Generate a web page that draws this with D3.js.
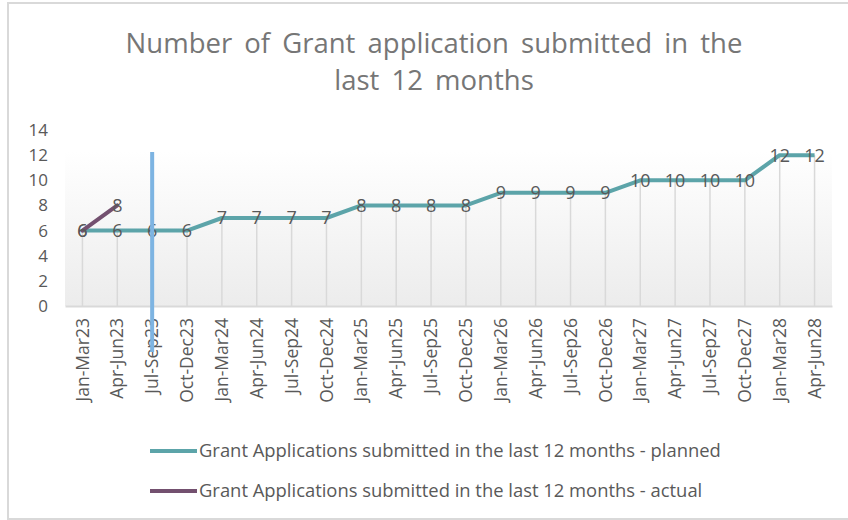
<!DOCTYPE html>
<html>
<head>
<meta charset="utf-8">
<script src="https://cdn.jsdelivr.net/npm/d3@7"></script>
<style>
  body { margin: 0; background: #fff; }
  svg { display: block; font-family: 'Open Sans', sans-serif; }
</style>
</head>
<body>
<svg id="chart" width="848" height="520"></svg>
<script>
// --- data ---
const quarters = ['Jan-Mar23', 'Apr-Jun23', 'Jul-Sep23', 'Oct-Dec23', 'Jan-Mar24', 'Apr-Jun24',
  'Jul-Sep24', 'Oct-Dec24', 'Jan-Mar25', 'Apr-Jun25', 'Jul-Sep25', 'Oct-Dec25', 'Jan-Mar26',
  'Apr-Jun26', 'Jul-Sep26', 'Oct-Dec26', 'Jan-Mar27', 'Apr-Jun27', 'Jul-Sep27', 'Oct-Dec27',
  'Jan-Mar28', 'Apr-Jun28'];
const planned = [6, 6, 6, 6, 7, 7, 7, 7, 8, 8, 8, 8, 9, 9, 9, 9, 10, 10, 10, 10, 12, 12];
const actual = [6, 8];
const yTicks = [0, 2, 4, 6, 8, 10, 12, 14];
const markerQuarter = 'Jul-Sep23';
const titleLines = ['Number of Grant application submitted in the', 'last 12 months'];
const legendLabels = [
  'Grant Applications submitted in the last 12 months - planned',
  'Grant Applications submitted in the last 12 months - actual',
];

const colors = { planned: '#5ca4a9', actual: '#73506f', text: '#595959', grid: '#d9d9d9' };

const svg = d3.select('#chart');

// outer chart frame
svg.append('rect')
  .attr('x', 8).attr('y', 3).attr('width', 850).attr('height', 516)
  .attr('fill', '#fff').attr('stroke', '#d9d9d9').attr('stroke-width', 2);

// title
svg.append('g').selectAll('text')
  .data(titleLines)
  .join('text')
  .attr('x', 434)
  .attr('y', (d, i) => 53 + i * 37)
  .attr('text-anchor', 'middle')
  .attr('fill', '#767676')
  .attr('font-size', 27.5)
  .attr('word-spacing', 5)
  .text(d => d);

// scales
const plot = { left: 65, right: 832, top: 130, bottom: 306 };
const x = d3.scaleBand().domain(quarters).range([plot.left, plot.right]);
const cx = d => x(d) + x.bandwidth() / 2;
const y = d3.scaleLinear().domain([0, 14]).range([plot.bottom, plot.top]);

// plot background gradient
const defs = svg.append('defs');
const grad = defs.append('linearGradient').attr('id', 'plotbg')
  .attr('x1', 0).attr('y1', 0).attr('x2', 0).attr('y2', 1);
grad.append('stop').attr('offset', '0%').attr('stop-color', '#ffffff');
grad.append('stop').attr('offset', '12%').attr('stop-color', '#ffffff');
grad.append('stop').attr('offset', '100%').attr('stop-color', '#ececec');
svg.append('rect')
  .attr('x', plot.left).attr('y', plot.top)
  .attr('width', plot.right - plot.left).attr('height', plot.bottom - plot.top)
  .attr('fill', 'url(#plotbg)');

// y axis (labels only)
const yAxis = svg.append('g')
  .attr('transform', `translate(${plot.left - 17},0)`)
  .call(d3.axisLeft(y).tickValues(yTicks).tickSize(0).tickPadding(0));
yAxis.select('.domain').remove();
yAxis.selectAll('text').attr('font-size', 17).attr('fill', colors.text)
  .attr('font-family', 'Open Sans, sans-serif');

// drop lines
svg.append('g').selectAll('line')
  .data(quarters)
  .join('line')
  .attr('x1', d => cx(d)).attr('x2', d => cx(d))
  .attr('y1', plot.bottom).attr('y2', (d, i) => y(planned[i]))
  .attr('stroke', colors.grid).attr('stroke-width', 1.5);

// x axis
const xAxis = svg.append('g')
  .attr('transform', `translate(0,${plot.bottom})`)
  .call(d3.axisBottom(x).tickSize(0).tickPadding(0));
xAxis.select('.domain').attr('stroke', colors.grid).attr('stroke-width', 2);
xAxis.selectAll('text')
  .attr('font-size', 17.5).attr('fill', colors.text)
  .attr('font-family', 'Open Sans, sans-serif')
  .attr('transform', 'rotate(-90)')
  .attr('text-anchor', 'end')
  .attr('x', -12).attr('y', 0).attr('dy', '0.35em');

// lines
const line = d3.line().x((d, i) => cx(quarters[i])).y(d => y(d));
svg.append('path').datum(planned)
  .attr('d', line).attr('fill', 'none')
  .attr('stroke', colors.planned).attr('stroke-width', 4).attr('stroke-linejoin', 'round');
svg.append('path').datum(actual)
  .attr('d', line).attr('fill', 'none')
  .attr('stroke', colors.actual).attr('stroke-width', 4).attr('stroke-linecap', 'round');

// data labels
const labelData = planned.map((v, i) => ({ q: quarters[i], v }))
  .concat(actual.map((v, i) => ({ q: quarters[i], v })));
svg.append('g').selectAll('text')
  .data(labelData)
  .join('text')
  .attr('x', d => cx(d.q))
  .attr('y', d => y(d.v))
  .attr('dy', '0.36em')
  .attr('text-anchor', 'middle')
  .attr('font-size', 18)
  .attr('fill', colors.text)
  .text(d => d.v);

// marker bar
svg.append('rect')
  .attr('x', cx(markerQuarter) - 2).attr('y', 152)
  .attr('width', 4).attr('height', 200)
  .attr('fill', '#7db4e2');

// legend
const legendColors = [colors.planned, colors.actual];
const legend = svg.append('g').selectAll('g')
  .data(legendLabels)
  .join('g')
  .attr('transform', (d, i) => `translate(150,${451 + i * 40})`);
legend.append('line')
  .attr('x1', 0).attr('x2', 47)
  .attr('stroke', (d, i) => legendColors[i]).attr('stroke-width', 4);
legend.append('text')
  .attr('x', 49).attr('dy', '0.35em')
  .attr('font-size', 18.4).attr('fill', colors.text)
  .text(d => d);
</script>
</body>
</html>
